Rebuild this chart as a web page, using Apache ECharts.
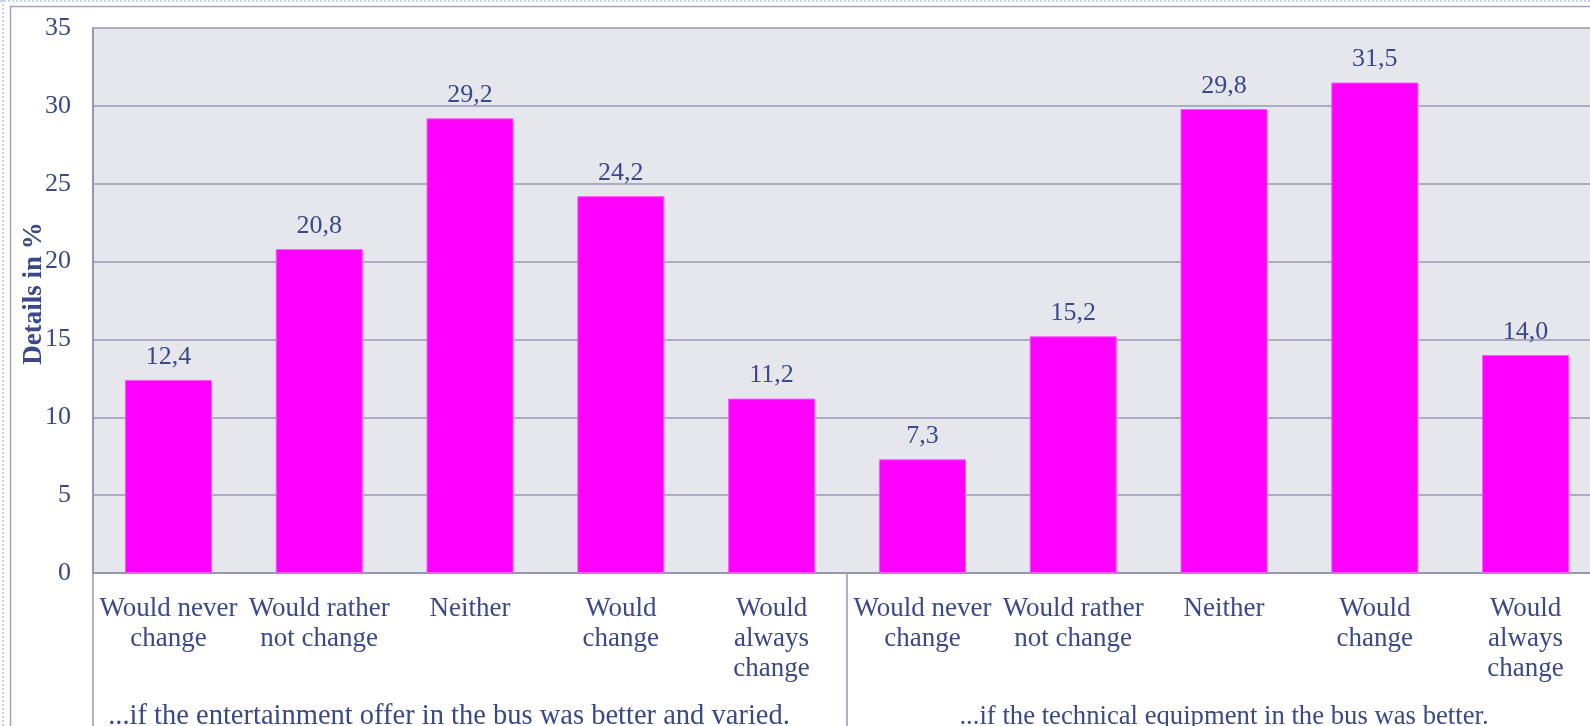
<!DOCTYPE html>
<html>
<head>
<meta charset="utf-8">
<script src="https://cdn.jsdelivr.net/npm/echarts@6/dist/echarts.min.js"></script>
<style>
    html, body { margin: 0; padding: 0; background: #fff; }
    #chart { width: 1590px; height: 726px; }
</style>
</head>
<body>
<div id="chart"></div>
<script>
var categories = [
    'Would never\nchange', 'Would rather\nnot change', 'Neither', 'Would\nchange', 'Would\nalways\nchange',
    'Would never\nchange', 'Would rather\nnot change', 'Neither', 'Would\nchange', 'Would\nalways\nchange'
];
var values = [12.4, 20.8, 29.2, 24.2, 11.2, 7.3, 15.2, 29.8, 31.5, 14.0];
var groups = [
    '...if the entertainment offer in the bus was better and varied.',
    '...if the technical equipment in the bus was better.'
];
var yTicks = { min: 0, max: 35, interval: 5 };

var textColor = '#3b4889';
var lineColor = '#9797b5';
var font = '"Liberation Serif", "Times New Roman", serif';

var myChart = echarts.init(document.getElementById('chart'));

var option = {
    animation: false,
    textStyle: { fontFamily: font },
    graphic: [
        {
            type: 'rect',
            shape: { x: 10.5, y: 6.5, width: 1600, height: 760 },
            style: { fill: 'none', stroke: '#a3a3bf', lineWidth: 1.5 },
            z: -10
        },
        {
            type: 'line',
            shape: { x1: 3, y1: 0, x2: 3, y2: 726 },
            style: { stroke: '#c6d2f0', lineWidth: 2, lineDash: [2, 2] },
            z: -10
        },
        {
            type: 'line',
            shape: { x1: 0, y1: 1, x2: 1590, y2: 1 },
            style: { stroke: '#c6d2f0', lineWidth: 2, lineDash: [2, 2] },
            z: -10
        }
    ],
    grid: {
        left: 93,
        top: 28,
        width: 1508,
        height: 545,
        outerBoundsMode: 'none',
        containLabel: false,
        show: true,
        backgroundColor: '#e6e6ed',
        borderWidth: 0
    },
    xAxis: [
        {
            type: 'category',
            data: categories,
            position: 'bottom',
            axisLine: { show: true, lineStyle: { color: lineColor, width: 2 } },
            axisTick: { show: false },
            axisLabel: {
                interval: 0,
                color: textColor,
                fontSize: 27,
                lineHeight: 30,
                margin: 21,
                fontFamily: font
            }
        },
        {
            type: 'category',
            data: [
                { value: groups[0], textStyle: { padding: [0, 42, 0, 0], fontSize: 28.5 } },
                { value: groups[1], textStyle: { fontSize: 26.7 } }
            ],
            position: 'bottom',
            axisLine: { show: false },
            axisTick: {
                show: true,
                inside: false,
                length: 160,
                lineStyle: { color: lineColor, width: 1.5 }
            },
            axisLabel: {
                interval: 0,
                color: textColor,
                fontSize: 28,
                lineHeight: 30,
                margin: 129,
                fontFamily: font
            }
        }
    ],
    yAxis: {
        type: 'value',
        min: yTicks.min,
        max: yTicks.max,
        interval: yTicks.interval,
        name: 'Details in %',
        nameLocation: 'middle',
        nameGap: 45,
        nameMoveOverlap: false,
        nameTextStyle: {
            color: textColor,
            fontSize: 27,
            fontWeight: 'bold',
            fontFamily: font,
            padding: [0, 0, 0, 14]
        },
        axisLine: { show: true, lineStyle: { color: lineColor, width: 2 } },
        axisTick: { show: false },
        axisLabel: {
            color: textColor,
            fontSize: 26,
            margin: 22,
            fontFamily: font
        },
        splitLine: { show: true, lineStyle: { color: lineColor, width: 1.5 } }
    },
    series: [{
        type: 'bar',
        data: values,
        barWidth: 87,
        itemStyle: {
            color: '#ff00ff',
            borderColor: '#ff55ff',
            borderWidth: 1
        },
        label: {
            show: true,
            position: 'top',
            distance: 10,
            color: textColor,
            fontSize: 26,
            fontFamily: font,
            formatter: function (p) {
                return p.value.toFixed(1).replace('.', ',');
            }
        }
    }]
};

myChart.setOption(option);
</script>
</body>
</html>
